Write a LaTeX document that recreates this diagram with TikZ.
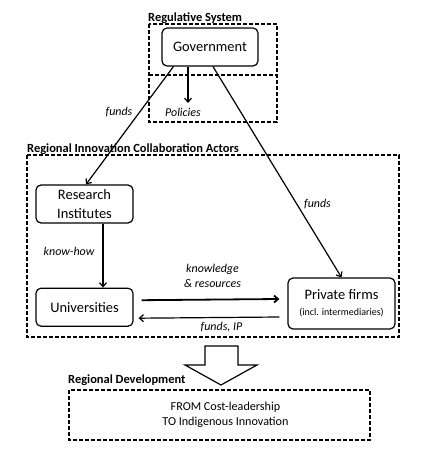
\documentclass[tikz,border=0pt]{standalone}
\usepackage{fontspec}
\setmainfont{Carlito}
\usetikzlibrary{arrows,arrows.meta,positioning,calc}
\tikzset{
    block/.style = {draw, rectangle, rounded corners=5bp, line width=1.2bp,
        inner sep=0pt, align=center, font=\fontsize{14.5}{19}\selectfont},
    frame/.style = {draw, dash pattern=on 4bp off 2bp, line width=1.2bp},
    heading/.style = {anchor=west, inner sep=0pt, font=\fontsize{12.5}{15}\selectfont\bfseries},
    flow/.style = {inner sep=0pt, align=center, font=\fontsize{12}{15}\selectfont\itshape},
    arrow/.style = {draw, ->, line width=1.2bp}
}

\begin{document}
\begin{tikzpicture}[x=1bp, y=-1bp, >={Straight Barb[length=4bp, width=7bp]}]
            \useasboundingbox (0,0) rectangle (432,457);
            \draw [frame] (149,24) rectangle (277,122);
            \draw [frame] (149,75) -- (277,75);
            \draw [frame] (27,155) rectangle (399,337);
            \draw [frame] (69,390) rectangle (370,440);
            \node [heading] (regsys) at (148,18) {Regulative System};
            \node [heading] (rica) at (27,149) {Regional Innovation Collaboration Actors};
            \node [heading] (regdev) at (68,380) {Regional Development};
            \node [block, minimum width=96bp, minimum height=38bp] (gov) at (210,47) {Government};
            \node [block, minimum width=97bp, minimum height=38bp] (ri) at (84.5,204) {Research\\Institutes};
            \node [block, minimum width=97bp, minimum height=38bp, below=64bp of ri] (univ) {Universities};
            \node [block, minimum width=107bp, minimum height=51bp] (pf) at (341.5,303.5)
                {Private firms\\[-3bp]{\fontsize{10}{12}\selectfont(incl. intermediaries)}};
            \coordinate (pol) at (188,103);
            \draw [arrow] ($(gov.south)+(-22,0)$) -- (pol);
            \draw [arrow] ($(gov.south west)+(12,0)$) -- ($(ri.north)+(1.5,0)$);
            \draw [arrow] ($(gov.south)+(3,0)$) -- (pf.north);
            \draw [arrow] ($(ri.south)+(18.5,0)$) -- ($(univ.north)+(18.5,0)$);
            \draw [arrow, line width=1.8bp] ($(univ.east)+(8,-7)$) -- ($(pf.west)+(-8,-4.5)$);
            \draw [arrow] ($(pf.west)+(-8,13.5)$) -- ($(univ.east)+(5,11)$);
            \node [flow] (policies) at (183,112) {Policies};
            \node [flow] (fundsri) at (119,112) {funds};
            \node [flow] (fundspf) at (317.5,204) {funds};
            \node [flow] (knowhow) at (69,251) {know-how};
            \node [flow] (knowres) at (212.5,275.5) {knowledge\\\& resources};
            \node [flow] (fundsip) at (221.5,327) {funds, IP};
            \draw [line width=1.2bp, fill=white] (205,346) -- (238,346) -- (238,365) -- (257,365)
                -- (221,385) -- (185,365) -- (205,365) -- cycle;
            \node [align=center, inner sep=0pt, font=\fontsize{12.2}{15}\selectfont] (goal) at (225.5,414.5)
                {FROM Cost-leadership\\TO Indigenous Innovation};
        \end{tikzpicture}
\end{document}
